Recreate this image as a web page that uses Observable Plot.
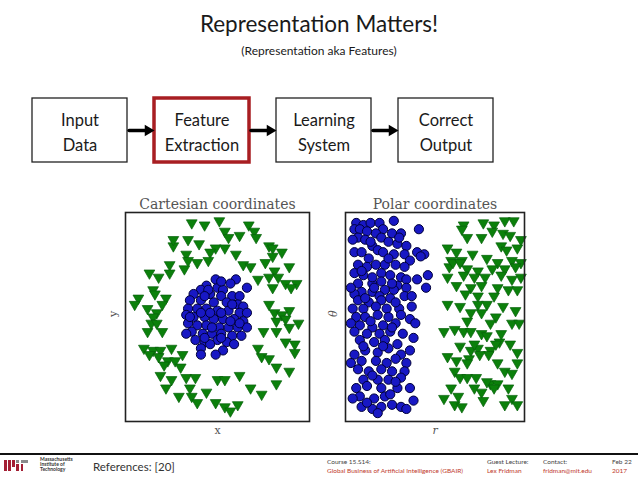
<!DOCTYPE html>
<html>
<head>
<meta charset="utf-8">
<script src="https://cdn.jsdelivr.net/npm/d3@7"></script>
<script src="https://cdn.jsdelivr.net/npm/@observablehq/plot@0.6"></script>
<style>
  html, body { margin: 0; padding: 0; background: #fff; }
  #slide { position: relative; width: 638px; height: 479px; overflow: hidden; font-family: Lato, "Open Sans", sans-serif; color: #222; }
  .abs { position: absolute; }
  #title { left: 0; width: 638px; top: 9px; text-align: center; font-size: 22.5px; line-height: 30px; color: #1a1a1a; }
  #subtitle { left: 0; width: 638px; top: 43px; text-align: center; font-size: 12px; line-height: 16px; color: #1a1a1a; }
  #rule { left: 0; top: 453px; width: 638px; height: 2px; background: #111; }
  .bar { position: absolute; }
  .mitname { left: 40px; top: 457px; font-size: 5px; line-height: 5px; font-weight: bold; color: #333; }
  #refs { left: 93px; top: 460px; font-size: 11.5px; line-height: 14px; color: #333; }
  .foot { top: 457px; font-size: 6.5px; line-height: 9px; color: #444; white-space: nowrap; }
  .foot span { color: #c0392b; }
</style>
</head>
<body>
<div id="slide">
  <div id="title" class="abs">Representation Matters!</div>
  <div id="subtitle" class="abs">(Representation aka Features)</div>
  <div id="flow" class="abs" style="left:0;top:95px;"></div>
  <div id="cart" class="abs" style="left:100px;top:185px;"></div>
  <div id="polar" class="abs" style="left:325px;top:185px;"></div>
  <div id="rule" class="abs"></div>
  <div id="logo"></div>
  <div class="abs mitname">Massachusetts<br>Institute of<br>Technology</div>
  <div id="refs" class="abs">References: [20]</div>
  <div class="abs foot" style="left:327px;">Course 15.S14:<br><span>Global Business of Artificial Intelligence (GBAIR)</span></div>
  <div class="abs foot" style="left:487px;">Guest Lecture:<br><span>Lex Fridman</span></div>
  <div class="abs foot" style="left:543px;">Contact:<br><span>fridman@mit.edu</span></div>
  <div class="abs foot" style="left:612px;">Feb 22<br><span>2017</span></div>
</div>
<script>
// ---------------- data ----------------
const steps = ["Input\nData", "Feature\nExtraction", "Learning\nSystem", "Correct\nOutput"];
const highlightedStep = "Feature\nExtraction";
const links = [["Input\nData", "Feature\nExtraction"], ["Feature\nExtraction", "Learning\nSystem"], ["Learning\nSystem", "Correct\nOutput"]];

const cartesianTitle = "Cartesian coordinates";
const polarTitle = "Polar coordinates";

// Cartesian panel (x, y), frame spans 0..100 on both axes
const cartesianOuter = [
  [36,95],[43,94],[51,96],[54,91],[62,89],[67,94],[70,91],[71,88],[56,88],
  [34,87],[40,85],[26,84],[26,87],
  [49,83],[54,83],[60,80],[46,81],[33,80],[34,77],[39,76],[45,77],
  [64,75],[68,74],[24,75],[32,73],
  [78,84],[80,83],[85,81],[89,74],[81,72],[76,76],[80,79],
  [72,68],[78,69],[83,69],[87,66],[93,66],[90,64],[80,64],
  [78,56],[81,52],[89,53],[85,51],
  [13,71],[18,69],[24,71],[15,63],[16,61],[7,59],[5,56],[22,59],[20,56],[12,54],[17,52],[15,50],
  [12,43],[14,47],[17,47],[20,43],[10,35],[15,34],[19,34],[25,35],[13,32],[18,31],[23,29],[27,29],[31,32],
  [21,27],[30,26],[19,22],[25,20],[33,21],[38,21],[22,16],[29,12],[35,16],[36,12],[44,14],
  [50,20],[54,20],[62,22],[39,9],[49,9],[54,7],[61,8],[57,5],[68,16],[74,13],[82,18],
  [75,43],[82,43],[89,45],[94,47],[87,38],[92,37],[92,33],[72,35],[74,31],[78,30],[82,26],[89,24],[87,49],[82,48]
];
const cartesianInner = [
  [60,68],[57,66],[66,64],[44,65],[50,64],[53,63],[41,63],[37,61],[46,61],[52,60],[58,60],[62,60],
  [35,58],[41,58],[48,57],[55,57],[61,56],[64,55],[34,54],[39,54],[44,54],[50,53],[56,53],[62,52],
  [66,52],[33,51],[37,50],[43,50],[48,49],[53,49],[59,49],[64,48],[34,47],[39,46],[44,46],[51,45],
  [56,45],[61,45],[66,45],[36,43],[42,42],[47,42],[52,42],[58,41],[63,41],[38,39],[43,38],[50,39],
  [55,38],[33,42],[41,35],[53,34],[49,32],[41,32],[46,37],[59,37],[45,63],[49,68],[52,67],[35,50],
  [62,47],[43,40],[52,40],[57,48],[46,52],[52,52],[41,52],[47,45],[58,56],[43,60]
];

// Polar panel (r, theta), frame spans 0..100 on both axes
const polarInner = [
  [6,95],[10,94],[14,95],[19,95],[27,96],[5,92],[8,92],[12,91],[21,92],[41,92],[17,90],[26,90],[31,90],
  [7,88],[11,87],[20,88],[24,86],[29,85],[15,84],[34,84],[5,81],[9,81],[18,82],[21,81],[27,80],[33,80],
  [40,81],[44,80],[13,78],[36,77],[42,79],[7,75],[12,74],[17,75],[22,75],[28,75],[33,74],[5,71],[10,70],
  [20,71],[25,70],[31,69],[34,68],[46,70],[7,66],[15,66],[20,67],[29,65],[40,68],[9,62],[15,62],[22,63],
  [27,63],[34,64],[45,64],[5,61],[19,60],[7,58],[13,57],[20,58],[25,59],[33,60],[37,60],[4,54],[10,54],
  [17,55],[23,54],[30,54],[37,55],[6,50],[11,50],[18,51],[24,50],[31,51],[36,49],[8,46],[15,45],[21,46],
  [28,47],[39,47],[5,43],[12,42],[19,42],[25,43],[32,42],[38,40],[8,39],[16,38],[22,39],[29,37],[5,32],
  [11,34],[18,33],[24,35],[31,32],[36,34],[9,29],[17,29],[23,28],[34,28],[7,25],[13,24],[20,25],[26,24],
  [33,24],[10,20],[18,20],[24,20],[31,21],[6,16],[12,17],[20,16],[29,16],[36,16],[8,12],[16,11],[22,12],
  [38,10],[9,7],[15,6],[20,7],[26,8],[31,7],
  [4,87],[14,86],[24,78],[9,72],[15,69],[26,66],[3,64],[11,59],[28,57],[3,47],[14,48],[26,45],[10,36],
  [21,36],[28,30],[3,28],[15,22],[28,19],[4,11],[12,9],[25,13],[18,4],[34,6],[30,88],[16,64]
];
const polarOuter = [
  [66,94],[77,95],[83,94],[89,96],[94,96],[82,91],[88,90],[65,92],[68,88],[76,88],[92,89],[98,87],
  [57,83],[62,81],[87,84],[90,82],[96,83],[71,80],[59,77],[65,77],[79,78],[85,76],[93,77],[98,76],
  [68,73],[74,72],[82,73],[89,73],[95,74],[57,69],[66,70],[72,69],[78,69],[87,70],[93,68],[98,69],
  [62,65],[70,64],[76,65],[85,64],[91,63],[96,63],[67,61],[74,60],[83,60],[57,56],[64,55],[74,56],
  [79,56],[88,55],[95,53],[70,52],[76,52],[84,50],[58,74],[60,76],[64,76],
  [55,43],[61,44],[66,43],[70,43],[68,48],[76,42],[81,47],[93,47],[97,47],[64,36],[70,34],[74,35],
  [81,34],[86,38],[92,37],[96,33],[57,31],[62,29],[69,30],[80,32],[89,24],[93,23],[96,28],[61,24],
  [64,21],[68,21],[73,21],[81,18],[85,18],[91,16],[59,16],[55,11],[61,8],[65,7],[76,14],[93,11],[96,8],
  [89,8],[79,41],[87,42],[72,37],[84,37],[75,32],[68,28],[85,28],[79,19],[72,16],[83,16],[77,10],[63,12]
];

// ---------------- flow diagram ----------------
const flow = Plot.plot({
  width: 638, height: 70,
  marginLeft: 31, marginRight: 143, marginTop: 3, marginBottom: 3,
  x: {type: "band", domain: steps, paddingInner: 0.22, paddingOuter: 0, axis: null},
  y: {domain: [0, 1], axis: null},
  marks: [
    Plot.cell(steps, {x: d => d, fill: "white", inset: 0,
      stroke: d => d === highlightedStep ? "#a81e22" : "#222",
      strokeWidth: d => d === highlightedStep ? 3.5 : 1.3}),
    Plot.text(steps, {x: d => d, text: d => d, frameAnchor: "middle", fontSize: 16.5, lineHeight: 1.5,
      fontFamily: "Lato", fill: "#1a1a1a"}),
    Plot.arrow(links, {x1: d => d[0], x2: d => d[1], y1: () => 0.5, y2: () => 0.5, stroke: "#000", strokeWidth: 3.5,
      headLength: 0, insetStart: 49, insetEnd: 56}),
    Plot.dot(links, {x: d => d[1], y: () => 0.5, symbol: "triangle", rotate: 90, r: 4.2,
      fill: "#000", dx: -54})
  ],
  style: {overflow: "visible", background: "transparent"}
});
document.getElementById("flow").append(flow);

// ---------------- scatter panels ----------------
function panel(opts) {
  return Plot.plot({
    width: opts.width, height: 260,
    marginLeft: opts.ml, marginRight: opts.mr, marginTop: 27, marginBottom: 24,
    x: {domain: [0, 100], axis: null},
    y: {domain: [0, 100], axis: null},
    marks: [
      Plot.dot(opts.green, {x: d => d[0], y: d => d[1], symbol: "triangle", rotate: 180, r: 4,
        fill: "#0b800b", stroke: "#06600a", strokeWidth: 0.7}),
      Plot.dot(opts.blue, {x: d => d[0], y: d => d[1], r: 4.6,
        fill: "#1818c4", stroke: "#00003a", strokeWidth: 1}),
      Plot.frame({stroke: "#222", strokeWidth: 1.6}),
      Plot.text([opts.title], {frameAnchor: "top", dy: -13, text: d => d, fontFamily: "DejaVu Serif",
        fontSize: 14, fill: "#555"}),
      Plot.text([opts.xl], {frameAnchor: "bottom", dy: 12, text: d => d, fontFamily: "DejaVu Serif",
        fontSize: 11, fill: "#555", fontStyle: opts.italic ? "italic" : "normal"}),
      Plot.text([opts.yl], {frameAnchor: "left", dx: -12, rotate: -90, text: d => d, fontFamily: "DejaVu Serif",
        fontSize: 11, fill: "#555", fontStyle: opts.italic ? "italic" : "normal"})
    ],
    style: {overflow: "visible", background: "transparent"}
  });
}
document.getElementById("cart").append(panel({width: 220, ml: 25, mr: 11, green: cartesianOuter, blue: cartesianInner,
  title: cartesianTitle, xl: "x", yl: "y", italic: false}));
document.getElementById("polar").append(panel({width: 215, ml: 20, mr: 16, green: polarOuter, blue: polarInner,
  title: polarTitle, xl: "r", yl: "θ", italic: true}));

// ---------------- logo (decoration) ----------------
const logoBars = [[4,460,2.6,11,"#a31f34"],[8,460,2.6,11,"#a31f34"],[12.2,460,2.6,7,"#a31f34"],
  [16.4,460,2.6,2.6,"#8a8b8c"],[16.4,464,2.6,7,"#a31f34"],[20.6,460,7,2.6,"#8a8b8c"],[20.6,464,2.6,7,"#a31f34"]];
const logo = document.getElementById("logo");
logoBars.forEach(([x, y, w, h, c]) => {
  const b = document.createElement("div");
  b.className = "bar";
  b.style.cssText = `left:${x}px;top:${y}px;width:${w}px;height:${h}px;background:${c}`;
  logo.append(b);
});
</script>
</body>
</html>
